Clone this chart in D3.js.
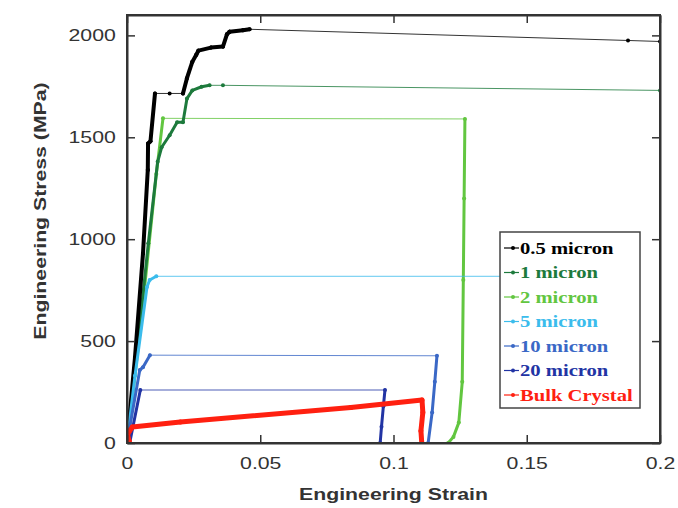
<!DOCTYPE html>
<html>
<head>
<meta charset="utf-8">
<script src="https://cdn.jsdelivr.net/npm/d3@7"></script>
<style>
  body { margin: 0; background: #fff; }
  .tick text { font-family: "Liberation Sans", Arial, sans-serif; font-size: 17px; fill: #333; }
  .axis path, .axis line { stroke: #333; }
</style>
</head>
<body>
<div id="chart"></div>
<script>
// each point: [strain, stress (MPa), dense] - dense = 1 where the simulation output is densely sampled
const micron05 = [[0,0,1],[0.003,420,1],[0.006,930,1],[0.0078,1340,1],[0.0079,1470,1],[0.0088,1480,1],[0.0105,1715,1],
  [0.016,1715,0],[0.021,1715,0],[0.0225,1790,1],[0.0245,1870,1],[0.026,1905,1],[0.0268,1925,1],[0.0315,1940,1],
  [0.036,1945,1],[0.0375,2005,1],[0.0385,2018,1],[0.0435,2025,1],[0.046,2030,1],[0.188,1975,0],[0.2,1970,0]];
const micron1 = [[0,0,1],[0.004,480,1],[0.008,980,1],[0.0115,1380,1],[0.013,1451,1],[0.016,1510,1],[0.0188,1574,1],
  [0.021,1574,1],[0.0225,1690,1],[0.0245,1730,1],[0.028,1748,1],[0.031,1755,1],[0.036,1755,0],[0.2,1730,0]];
const micron2 = [[0,0,1],[0.005,560,1],[0.011,1320,1],[0.0135,1593,1],[0.1268,1590,0],[0.1265,1200,1],
  [0.1262,800,1],[0.1258,300,1],[0.1245,100,1],[0.1225,30,1],[0.1205,0,1]];
const micron5 = [[0,0,1],[0.003,330,1],[0.0075,765,1],[0.0085,800,1],[0.011,818,1],[0.17,818,0]];
const micron10 = [[0,0,1],[0.0048,358,1],[0.006,372,1],[0.0086,431,1],[0.1163,428,0],[0.1155,300,1],
  [0.1145,150,1],[0.113,0,1]];
const micron20 = [[0,0,1],[0.001,0,1],[0.005,260,1],[0.0968,260,0],[0.0962,180,1],[0.0955,80,1],[0.095,0,1]];
const bulk = [[0,0,1],[0.0008,10,1],[0.0002,40,1],[0.001,60,1],[0.002,78,1],[0.02,103,1],[0.084,174,1],
  [0.1107,211,1],[0.111,150,1],[0.1103,60,1],[0.1106,0,1]];

const seriesNames = ["0.5 micron", "1 micron", "2 micron", "5 micron", "10 micron", "20 micron", "Bulk Crystal"];
const xTicks = [0, 0.05, 0.1, 0.15, 0.2];
const yTicks = [0, 500, 1000, 1500, 2000];

const colors = ["#000000", "#1d7a3c", "#62c640", "#3bbcec", "#3a68c6", "#2234a4", "#ff2010"];
const thick = [4, 3, 3, 3, 3, 3, 5];
const seriesData = [micron05, micron1, micron2, micron5, micron10, micron20, bulk];
const drawOrder = [2, 1, 0, 3, 4, 5, 6];

const margin = {top: 15, right: 18, bottom: 65, left: 127},
    width = 678 - margin.left - margin.right,
    height = 508 - margin.top - margin.bottom;
const stretch = "scale(1.25,1)"; // the original font is wide

const x = d3.scaleLinear().domain([0, 0.2]).range([0, width]);
const y = d3.scaleLinear().domain([0, 2100]).range([height, 0]);

const svg = d3.select("#chart").append("svg")
    .attr("width", 678)
    .attr("height", 508)
    .append("g")
    .attr("transform", "translate(" + margin.left + "," + margin.top + ")");

svg.append("clipPath").attr("id", "clip")
    .append("rect").attr("width", width).attr("height", height);

const plot = svg.append("g").attr("clip-path", "url(#clip)");

drawOrder.forEach(function(i) {
    const pts = seriesData[i];
    const g = plot.append("g");
    for (let k = 1; k < pts.length; k++) {
        const a = pts[k - 1], b = pts[k];
        g.append("line")
            .attr("x1", x(a[0])).attr("y1", y(a[1]))
            .attr("x2", x(b[0])).attr("y2", y(b[1]))
            .attr("stroke", colors[i])
            .attr("stroke-width", b[2] ? thick[i] : 1)
            .attr("stroke-linecap", "round")
            .attr("stroke-opacity", b[2] ? 1 : 0.8);
    }
    g.selectAll("circle")
        .data(pts)
        .enter()
        .append("circle")
        .attr("cx", function(d) { return x(d[0]); })
        .attr("cy", function(d) { return y(d[1]); })
        .attr("r", 2)
        .attr("fill", colors[i]);
});

// axes with inward ticks, mirrored on top and right
const xAxis = svg.append("g")
    .attr("class", "axis")
    .attr("transform", "translate(0," + height + ")")
    .call(d3.axisBottom(x).tickValues(xTicks).tickFormat(d3.format("")).tickSizeInner(-8).tickSizeOuter(0).tickPadding(14));
const yAxis = svg.append("g")
    .attr("class", "axis")
    .call(d3.axisLeft(y).tickValues(yTicks).tickFormat(d3.format("d")).tickSizeInner(-8).tickSizeOuter(0).tickPadding(9));
svg.append("g")
    .attr("class", "axis")
    .call(d3.axisTop(x).tickValues(xTicks).tickFormat("").tickSizeInner(-8).tickSizeOuter(0));
svg.append("g")
    .attr("class", "axis")
    .attr("transform", "translate(" + width + ",0)")
    .call(d3.axisRight(y).tickValues(yTicks).tickFormat("").tickSizeInner(-8).tickSizeOuter(0));

svg.selectAll(".axis path").style("stroke-width", 2);
svg.selectAll(".axis line").style("stroke-width", 1.5);
xAxis.selectAll("text").attr("transform", stretch);
yAxis.selectAll("text").attr("transform", stretch);

svg.append("rect")
    .attr("width", width).attr("height", height)
    .attr("fill", "none").attr("stroke", "#333").attr("stroke-width", 2);

svg.append("text")
    .attr("transform", "translate(" + (width / 2) + "," + (height + 57) + ") " + stretch)
    .style("text-anchor", "middle")
    .style("font-family", "Liberation Sans, Arial, sans-serif")
    .style("font-weight", "bold")
    .style("font-size", "17px")
    .style("fill", "#333")
    .text("Engineering Strain");

svg.append("text")
    .attr("transform", "translate(" + (-81) + "," + (height / 2 - 18) + ") rotate(-90) " + stretch)
    .style("text-anchor", "middle")
    .style("font-family", "Liberation Sans, Arial, sans-serif")
    .style("font-weight", "bold")
    .style("font-size", "17px")
    .style("fill", "#333")
    .text("Engineering Stress (MPa)");

// legend
const lg = svg.append("g").attr("transform", "translate(" + (500 - margin.left) + "," + (232 - margin.top) + ")");
lg.append("rect")
    .attr("width", 140).attr("height", 176)
    .attr("fill", "#fff").attr("stroke", "#444").attr("stroke-width", 1.5);

const rows = lg.selectAll(".row")
    .data(seriesNames)
    .enter()
    .append("g")
    .attr("class", "row")
    .attr("transform", function(d, i) { return "translate(0," + (16 + i * 24.5) + ")"; });

rows.append("line")
    .attr("x1", 4).attr("x2", 19)
    .attr("stroke", function(d, i) { return colors[i]; })
    .attr("stroke-width", 1.2);
rows.append("circle")
    .attr("cx", 13).attr("r", 2)
    .attr("fill", function(d, i) { return colors[i]; });
rows.append("text")
    .attr("transform", "translate(20,0) " + stretch)
    .attr("dy", "0.35em")
    .style("font-family", "Liberation Serif, Times New Roman, serif")
    .style("font-weight", "bold")
    .style("font-size", "16.5px")
    .style("fill", function(d, i) { return colors[i]; })
    .text(function(d) { return d; });
</script>
</body>
</html>
